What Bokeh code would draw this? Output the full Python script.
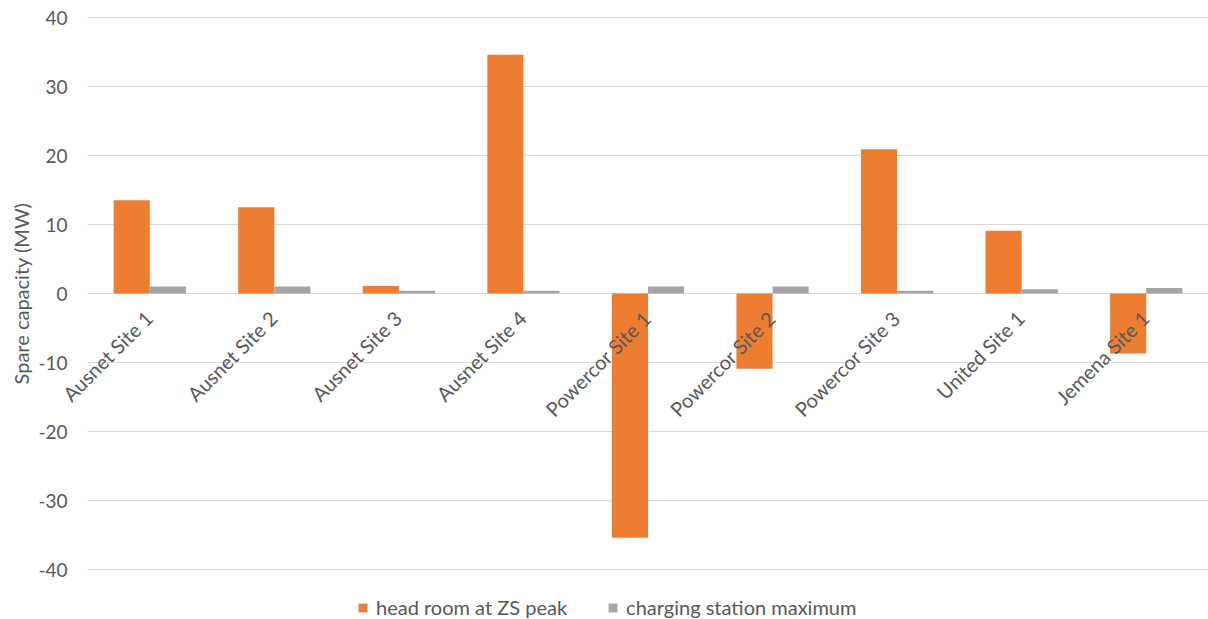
import math
from bokeh.plotting import figure
from bokeh.models import Range1d, Legend, LegendItem, ColumnDataSource, Label
from bokeh.transform import dodge
from bokeh.core.properties import value
from bokeh.embed import file_html
from bokeh.resources import INLINE

sites = ["Ausnet Site 1", "Ausnet Site 2", "Ausnet Site 3", "Ausnet Site 4",
         "Powercor Site 1", "Powercor Site 2", "Powercor Site 3", "United Site 1", "Jemena Site 1"]
head_room = [13.5, 12.5, 1.1, 34.6, -35.4, -10.9, 20.9, 9.1, -8.7]
charging_max = [1.0, 1.0, 0.4, 0.4, 1.0, 1.0, 0.4, 0.6, 0.8]
y_ticks = [-40, -30, -20, -10, 0, 10, 20, 30, 40]
y_title = "Spare capacity (MW)"

FONT = "Lato"
TXT = "#595959"
GRID = "#D9D9D9"

n = len(sites)
xs = [i + 0.5 for i in range(n)]          # category centres on a linear scale
src = ColumnDataSource(dict(x=xs, site=sites, head=head_room, charge=charging_max,
                            zero=[0] * n))
tick_src = ColumnDataSource(dict(y=y_ticks, lab=[str(t) for t in y_ticks],
                                 x0=[0] * len(y_ticks), x1=[n] * len(y_ticks)))

# plot area: categories 0..n occupy pixels 87..1208; values -40..40 occupy 17..569
px_per_cat = (1208 - 87) / n
px_per_unit = (569 - 17) / 80
x_lo = -87 / px_per_cat
y_hi = 40 + 17 / px_per_unit
y_lo = -40 - 50 / px_per_unit

p = figure(x_range=Range1d(x_lo, n), y_range=Range1d(y_lo, y_hi),
           width=1208, height=619, min_border=0,
           output_backend="svg", toolbar_location=None)
p.outline_line_color = None
p.axis.visible = False
p.grid.visible = False

# horizontal gridlines at the value ticks
p.segment(x0="x0", x1="x1", y0="y", y1="y", source=tick_src, line_color=GRID, line_width=1)

r1 = p.vbar(x=dodge("x", -0.145), top="head", width=0.29,
            source=src, fill_color="#ED7D31", line_color=None)
r2 = p.vbar(x=dodge("x", 0.145), top="charge", width=0.29,
            source=src, fill_color="#A5A5A5", line_color=None)

# value tick labels
p.text(x="x0", y="y", text="lab", source=tick_src, x_offset=-20,
       text_align="right", text_baseline="middle",
       text_font=value(FONT), text_font_size="19px", text_color=TXT)

# category labels rotated, hanging from the zero line
p.text(x="x", y="zero", text="site", source=src, angle=math.pi / 4,
       text_align="right", text_baseline="middle", x_offset=-1, y_offset=21,
       text_font=value(FONT), text_font_size="20px", text_color=TXT)

# value axis title
p.add_layout(Label(x=0, y=0, x_offset=-67, text=y_title, angle=math.pi / 2,
                   text_align="center", text_baseline="middle",
                   text_font=FONT, text_font_size="20px", text_color=TXT))

legend = Legend(items=[LegendItem(label="head room at ZS peak", renderers=[r1]),
                       LegendItem(label="charging station maximum", renderers=[r2])],
                orientation="horizontal", location=(357, 0),
                label_text_font=FONT, label_text_font_size="20px", label_text_color=TXT,
                glyph_width=11, glyph_height=11, spacing=40, border_line_color=None,
                background_fill_alpha=0, margin=0, padding=0, label_standoff=8,
                label_height=20)
p.add_layout(legend, "center")

open("out.html", "w").write(file_html(p, INLINE))
